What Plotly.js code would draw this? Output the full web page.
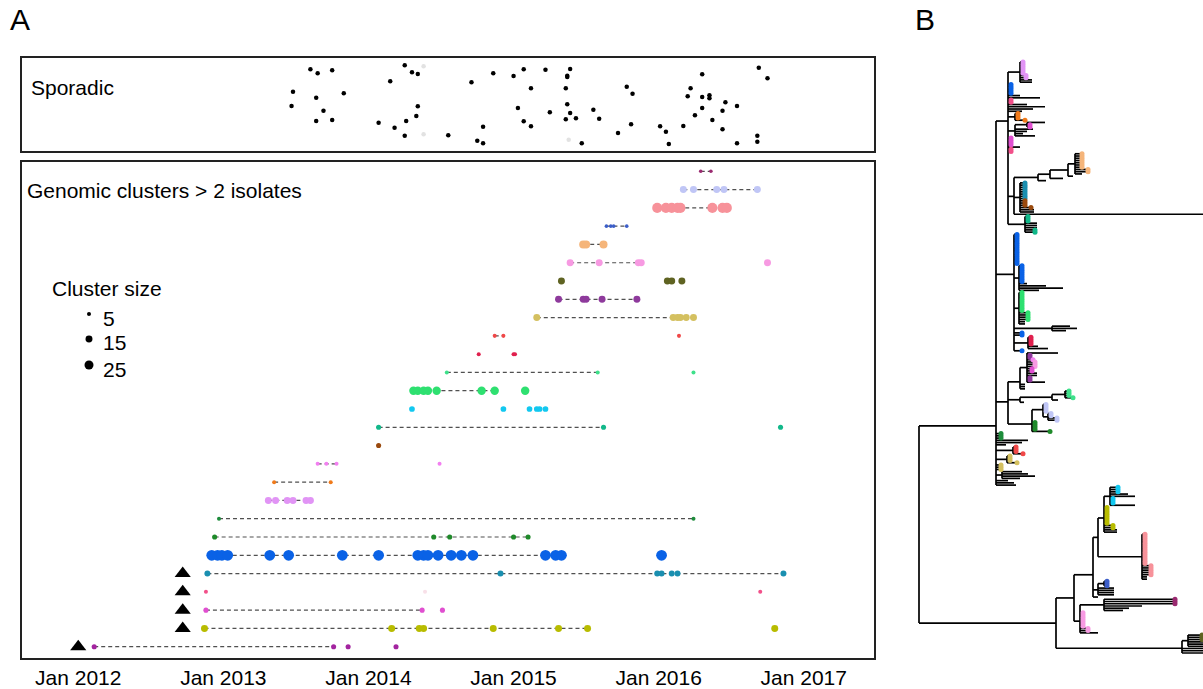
<!DOCTYPE html>
<html><head><meta charset="utf-8">
<script src="https://cdn.plot.ly/plotly-3.0.1.min.js"></script>
<style>html,body{margin:0;padding:0;background:#fff}#chart{width:1203px;height:689px}</style>
</head><body><div id="chart"></div>
<script>
// ---------------- Panel A, top: sporadic isolates (decimal year, vertical jitter 0..1) ----------------
const sporadicYear = [2013.60,2013.65,2013.75,2013.48,2013.64,2013.83,2013.47,2013.69,2013.64,2013.75,
  2014.25,2014.30,2014.34,2014.15,2014.34,2014.33,2014.26,2014.07,2014.18,2014.25,2014.55,2014.71,2014.86,
  2014.79,2014.75,2014.79,2015.00,2015.07,2015.22,2015.12,2015.03,2015.07,2015.12,2015.25,2015.39,2015.37,
  2015.37,2015.36,2015.37,2015.39,2015.43,2015.36,2015.47,2015.55,2015.59,2015.72,2015.78,2015.82,2015.81,
  2016.01,2016.05,2016.07,2016.17,2016.22,2016.20,2016.30,2016.30,2016.35,2016.35,2016.30,2016.25,2016.37,
  2016.46,2016.44,2016.44,2016.54,2016.54,2016.69,2016.75,2016.68,2016.68];
const sporadicJitter = [0.863,0.819,0.852,0.614,0.548,0.597,0.456,0.403,0.289,0.300,
  0.908,0.830,0.811,0.730,0.452,0.344,0.289,0.270,0.214,0.126,0.130,0.719,0.819,
  0.226,0.070,0.041,0.789,0.863,0.859,0.652,0.433,0.286,0.230,0.386,0.867,0.792,
  0.778,0.652,0.474,0.378,0.319,0.308,0.041,0.414,0.314,0.156,0.670,0.592,0.252,
  0.230,0.170,0.033,0.233,0.652,0.563,0.808,0.556,0.574,0.541,0.433,0.352,0.300,
  0.497,0.403,0.197,0.456,0.041,0.881,0.763,0.126,0.059];
const faintYear = [2014.38,2014.38,2015.38];
const faintJitter = [0.897,0.141,0.081];

// ---------------- Panel A, bottom: genomic clusters (row 1 = bottom row) ----------------
const clusterColors = ['#a3249f','#b8bc00','#e04fd0','#f2508a','#1a8fb0','#0a62e6','#1f8a2a','#1e8c3c','#e194f5',
  '#f07a1a','#f27ff0','#9a4a0e','#12b88a','#12c8f0','#2ee070','#3ee08a','#e0204e','#f04848','#d4c060',
  '#8e3a9c','#5f6322','#f79ae2','#f5b57a','#3c5ec8','#f7929a','#c0c6f6','#9a2a70'];
const clusterSize = [8,15,8,5,11,36,8,5,15,5,5,8,8,10,22,5,5,5,15,15,15,15,20,4,31,15,4];
const clusterDates = [
  [2012.11,2013.76,2013.86,2014.19],
  [2012.87,2014.16,2014.35,2014.38,2014.86,2015.31,2015.51,2016.80],
  [2012.88,2014.37,2014.51],
  [2012.88,2016.70],
  [2012.89,2014.91,2015.99,2016.02,2016.09,2016.13,2016.86],
  [2012.92,2012.96,2012.99,2013.03,2013.32,2013.45,2013.82,2014.07,2014.34,2014.38,2014.41,2014.48,2014.57,2014.64,2014.72,2015.22,2015.29,2015.33,2016.02],
  [2012.94,2014.45,2014.56,2015.00,2015.10],
  [2012.97,2016.24],
  [2013.31,2013.36,2013.44,2013.48,2013.57,2013.60],
  [2013.35,2013.74],
  [2013.65,2013.71,2013.78,2014.49],
  [2014.07],
  [2014.07,2015.62,2016.84],
  [2014.30,2014.93,2015.11,2015.16,2015.18,2015.22],
  [2014.31,2014.34,2014.38,2014.41,2014.47,2014.78,2014.87,2015.08],
  [2014.54,2015.58,2016.24],
  [2014.76,2015.00,2015.01],
  [2014.87,2014.93,2016.14],
  [2015.16,2016.10,2016.13,2016.15,2016.19,2016.24],
  [2015.31,2015.48,2015.50,2015.61,2015.85],
  [2015.33,2016.06,2016.09,2016.16],
  [2015.39,2015.59,2015.86,2015.88,2016.75],
  [2015.48,2015.50,2015.62],
  [2015.64,2015.67,2015.69,2015.78],
  [2015.99,2016.05,2016.09,2016.13,2016.15,2016.37,2016.44,2016.47],
  [2016.17,2016.24,2016.40,2016.45,2016.68],
  [2016.29,2016.36]
];
// index of the last isolate joined to the first one by the dashed line (-1 = no line)
const dashEnd = [1,6,1,-1,6,17,4,1,5,1,2,-1,1,-1,6,1,-1,1,5,4,-1,3,2,3,7,4,1];
const faintClusterRow = [4];
const faintClusterYear = [2014.39];
const triangleRow = [1,2,3,4,5];
const triangleYear = [2012.00,2012.72,2012.72,2012.72,2012.72];
const tickYears = [2012,2013,2014,2015,2016,2017];
const tickLabels = ['Jan 2012','Jan 2013','Jan 2014','Jan 2015','Jan 2016','Jan 2017'];
const legendSizes = [5,15,25];

// ---------------- Panel B: phylogeny ----------------
// internal node: [branchLength, [children]] ; tip group: [branchLength, numberOfTips, clusterRow (0 = sporadic)]
const cladeU1 = [12, [
  [12, [[3,6,9],[6,2,9],[12,2,0]]],
  [3,5,6],
  [12,1,0],[32,1,0],[3,2,4],[19,1,0],[37,1,0],[25,1,0],[14,1,0],
  [7, [[3,3,10],[10,1,10]]],
  [7, [[12, [[18,1,0],[3,2,3]]], [18,1,0],[12,1,0],[8,1,0],[20,1,0]]],
  [3,4,3],
  [12,1,0],
  [3,2,4],
  [6, [
    [24, [[12, [[18, [[7, [[7,7,23],[13,2,23],[7,1,0]]], [5,1,0]]], [13,1,0]]], [8,1,0]]],
    [6, [[5,8,5],[5,3,12],[11,1,12],[14,2,0]]],
    [230,1,0]
  ]],
  [17, [[3,3,13],[12,3,0],[10,2,13]]]
]];
const cladeU2 = [18, [
  [3,14,6],
  [5, [[3,8,6],[8,1,0],[27,1,0],[44,1,0],[20,1,0]]],
  [5, [[3,9,15],[9,4,15],[6,2,0]]],
  [38, [[18,1,0],[25,1,0],[14,1,0]]],
  [8,2,6],
  [14, [[3,4,17],[10,1,0],[20,1,0]]],
  [8,1,6]
]];
const cladeU3 = [12, [
  [12, [
    [7, [[31,1,0],[3,2,20],[6,1,11],[8,3,22],[5,2,3],[10,2,0],[3,2,20],[18,1,0]]],
    [5,3,0]
  ]],
  [12, [[32, [[13, [[4,3,16],[8,1,16]]], [6,1,0]]], [4,1,0]]],
  [24, [[11, [[3,4,26],[5, [[3,2,26],[9,2,26]]]]], [3,4,7], [18,1,7]]]
]];
const cladeU = [77, [cladeU1, cladeU2, cladeU3,
  [5,3,8],
  [32,1,0],[26,1,0],[10,1,0],
  [17, [[3,3,18],[10,1,18]]],
  [11, [[3,3,19],[10,1,19]]],
  [5,3,19],
  [6, [[20,1,0],[26,1,0],[33,1,0],[18,1,0]]],
  [12,1,0],[18,1,0],[20,1,0]
]];
const cladeL = [137, [
  [18, [
    [19, [
      [5, [
        [6, [
          [6, [[8,3,14],[18,1,0],[25,1,0],[3,3,14],[25,1,0]]],
          [3,8,2],[9,2,2],[13,2,0]
        ]],
        [44, [[3,14,25],[9,5,25],[5,2,0]]]
      ]],
      [5, [[6, [[3,3,24]]], [16,4,0]]],
      [5,1,0]
    ]],
    [6, [
      [18, [[6, [[71,3,27],[38,1,0],[25,1,0],[19,1,0]]]]],
      [3,7,22],[8,2,22],[18,1,0]
    ]]
  ]],
  [126, [[6, [[14,3,21],[40,3,0]]], [40,3,0]]]
]];
const treeRoot = [0, [cladeU, cladeL]];

// ---------------- build ----------------
const FONT = 'Liberation Sans, Arial, sans-serif';
const sizeOf = n => 1.8 * Math.sqrt(n);

// tree layout
const seg = {x: [], y: []}, tip = {x: [], y: [], c: []};
let leafCount = 0;
function walk(node, px) {
  const x = px + node[0];
  if (Array.isArray(node[1])) {
    let ys = [];
    node[1].forEach(ch => { ys = ys.concat(walk(ch, x)); });
    const y = ys.reduce((a, b) => a + b, 0) / ys.length;
    seg.x.push(x, x, null); seg.y.push(Math.min(...ys), Math.max(...ys), null);
    seg.x.push(px, x, null); seg.y.push(y, y, null);
    return [y];
  }
  const out = [];
  for (let i = 0; i < node[1]; i++) {
    const y = leafCount++;
    out.push(y);
    seg.x.push(px, x, null); seg.y.push(y, y, null);
    if (node[2]) { tip.x.push(x); tip.y.push(y); tip.c.push(clusterColors[node[2] - 1]); }
  }
  return out;
}
walk(treeRoot, 0);
const tipStep = 591 / (leafCount - 1);

const traces = [];
// sporadic
traces.push({type: 'scatter', mode: 'markers', x: faintYear, y: faintJitter, xaxis: 'x', yaxis: 'y',
  marker: {color: '#e2e2e2', size: 4.5}, hoverinfo: 'skip'});
traces.push({type: 'scatter', mode: 'markers', x: sporadicYear, y: sporadicJitter, xaxis: 'x', yaxis: 'y',
  marker: {color: '#000', size: 4.5}});
// dashed links
const dx = [], dy = [];
clusterDates.forEach((d, i) => { if (dashEnd[i] > 0) { dx.push(d[0], d[dashEnd[i]], null); dy.push(i + 1, i + 1, null); } });
traces.push({type: 'scatter', mode: 'lines', x: dx, y: dy, xaxis: 'x2', yaxis: 'y2',
  line: {color: '#505050', width: 1.2, dash: '4px,3px'}, hoverinfo: 'skip'});
traces.push({type: 'scatter', mode: 'markers', x: faintClusterYear, y: faintClusterRow, xaxis: 'x2', yaxis: 'y2',
  marker: {color: '#f8e0e8', size: sizeOf(5)}, hoverinfo: 'skip'});
clusterDates.forEach((d, i) => {
  traces.push({type: 'scatter', mode: 'markers', x: d, y: d.map(() => i + 1), xaxis: 'x2', yaxis: 'y2',
    marker: {color: clusterColors[i], size: sizeOf(clusterSize[i])}, name: 'cluster ' + (i + 1)});
});
traces.push({type: 'scatter', mode: 'markers', x: triangleYear, y: triangleRow, xaxis: 'x2', yaxis: 'y2',
  marker: {color: '#000', size: 14, symbol: 'triangle-up'}});
// tree
traces.push({type: 'scatter', mode: 'lines', x: seg.x, y: seg.y, xaxis: 'x3', yaxis: 'y3',
  line: {color: '#000', width: 1.7}, connectgaps: false, hoverinfo: 'skip'});
traces.push({type: 'scatter', mode: 'markers', x: tip.x, y: tip.y, xaxis: 'x3', yaxis: 'y3',
  marker: {color: tip.c, size: 5}, hoverinfo: 'skip'});

const W = 1203, H = 689;
const px = v => v / W, py = v => 1 - v / H;
const xRange = [2011.609, 2017.484];
const boxAxis = {showline: true, mirror: true, linewidth: 2, linecolor: '#222', showgrid: false, zeroline: false};

const annotations = [
  {text: 'A', x: px(8), y: py(19), xanchor: 'left', yanchor: 'middle', font: {size: 30}},
  {text: 'B', x: px(925), y: py(19), xanchor: 'center', yanchor: 'middle', font: {size: 30}},
  {text: 'Sporadic', x: px(29), y: py(88), xanchor: 'left', yanchor: 'middle', font: {size: 21}},
  {text: 'Genomic clusters &gt; 2 isolates', x: px(25), y: py(190), xanchor: 'left', yanchor: 'middle', font: {size: 21}},
  {text: 'Cluster size', x: px(50), y: py(288), xanchor: 'left', yanchor: 'middle', font: {size: 21}}
].map(a => Object.assign({xref: 'paper', yref: 'paper', showarrow: false}, a));
const shapes = [];
const legY = [314, 339, 365];
legendSizes.forEach((n, i) => {
  const r = sizeOf(n) / 2;
  shapes.push({type: 'circle', xref: 'paper', yref: 'paper', xsizemode: 'pixel', ysizemode: 'pixel',
    xanchor: px(89), yanchor: py(legY[i]), x0: -r, x1: r, y0: -r, y1: r, fillcolor: '#000', line: {width: 0}});
  annotations.push({xref: 'paper', yref: 'paper', showarrow: false, text: String(n), x: px(101), y: py(legY[i] + 4),
    xanchor: 'left', yanchor: 'middle', font: {size: 21}});
});

const layout = {
  width: W, height: H, margin: {l: 0, r: 0, t: 0, b: 0}, paper_bgcolor: '#fff', plot_bgcolor: '#fff',
  showlegend: false, font: {family: FONT, color: '#000'},
  xaxis: Object.assign({}, boxAxis, {domain: [px(21.5), px(874)], range: xRange, showticklabels: false, anchor: 'y'}),
  yaxis: Object.assign({}, boxAxis, {domain: [py(151), py(58)], range: [-0.0444, 0.9889], showticklabels: false, anchor: 'x'}),
  xaxis2: Object.assign({}, boxAxis, {domain: [px(21.5), px(874)], range: xRange, anchor: 'y2',
    tickmode: 'array', tickvals: tickYears, ticktext: tickLabels, tickfont: {size: 21}, ticks: ''}),
  yaxis2: Object.assign({}, boxAxis, {domain: [py(658), py(162)], range: [0.382, 27.509], showticklabels: false, anchor: 'x2'}),
  xaxis3: {domain: [px(912), 1], range: [-7, 284], visible: false, anchor: 'y3'},
  yaxis3: {domain: [0, 1], range: [627 / tipStep, -62 / tipStep], visible: false, anchor: 'x3'},
  annotations: annotations, shapes: shapes
};
Plotly.newPlot('chart', traces, layout, {staticPlot: true});
</script></body></html>
